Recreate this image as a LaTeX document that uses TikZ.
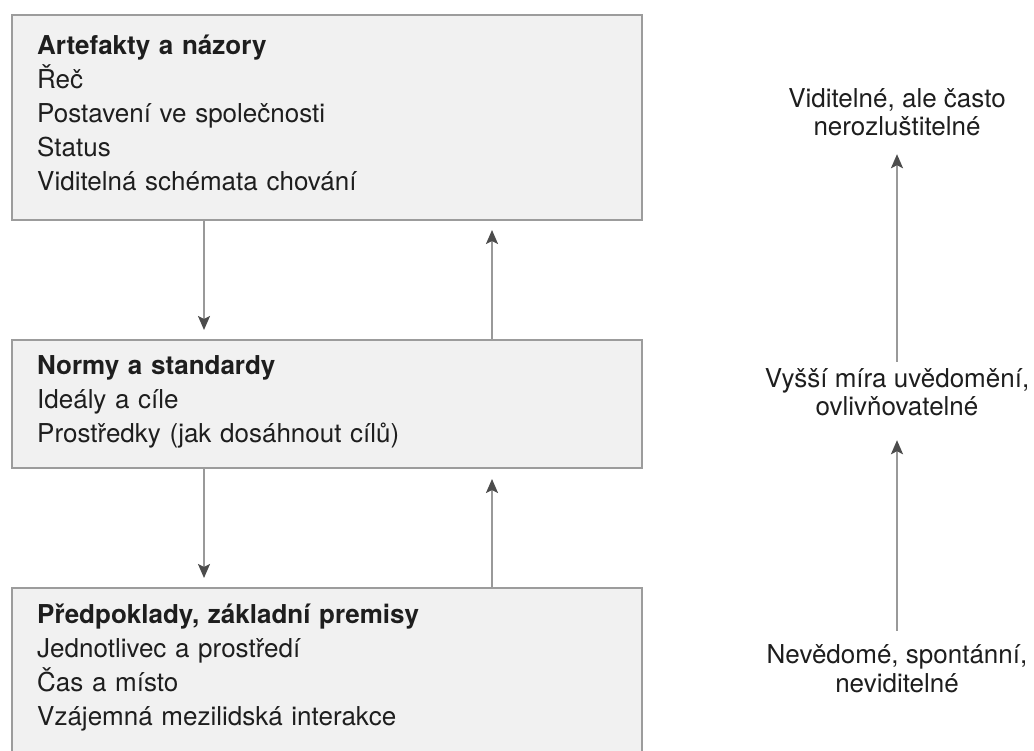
\documentclass[tikz,border=0pt]{standalone}
\usepackage{fontspec}
\setmainfont{TeX Gyre Heros}
\usetikzlibrary{arrows.meta}
\definecolor{boxfill}{HTML}{F1F1F1}
\definecolor{boxline}{HTML}{9C9C9C}
\definecolor{shaft}{HTML}{999999}
\definecolor{tipcol}{HTML}{4C4C4C}
\definecolor{ink}{HTML}{1E1E1E}
\begin{document}
\begin{tikzpicture}[x=1pt,y=-1pt,
  layer/.style={draw=boxline, fill=boxfill, line width=2pt, rectangle,
    inner sep=0pt, minimum width=630pt, anchor=north west},
  boxtext/.style={anchor=base west, inner sep=0pt, text width=500pt,
    align=left, text=ink, font=\fontsize{26}{34}\selectfont},
  side/.style={anchor=base, inner sep=0pt, text height=19pt, text depth=6pt,
    text=ink, font=\fontsize{26}{30}\selectfont},
  flow/.style={draw=shaft, line width=2pt,
    -{Stealth[length=14pt, width=12pt, inset=3pt, color=tipcol]}}
]
\useasboundingbox (0,0) rectangle (1034,751);
\clip (0,0) rectangle (1034,751);
\fill[white] (0,0) rectangle (1034,751);

% the three layers
\node[layer, minimum height=205pt] (art)  at (11,14)  {};
\node[layer, minimum height=128pt] (norm) at (11,339) {};
\node[layer, minimum height=220pt] (pred) at (11,587) {};

\node[boxtext] (arttxt) at (37,55)
  {\textbf{Artefakty a názory}\\Řeč\\Postavení ve společnosti\\Status\\Viditelná schémata chování};
\node[boxtext] (normtxt) at (37,375)
  {\textbf{Normy a standardy}\\Ideály a cíle\\Prostředky (jak dosáhnout cílů)};
\node[boxtext] (predtxt) at (37,623)
  {\textbf{Předpoklady, základní premisy}\\Jednotlivec a prostředí\\Čas a místo\\Vzájemná mezilidská interakce};

% columns of the connectors between layers
\coordinate (xdown) at (204,0);
\coordinate (xup)   at (492,0);

\draw[flow, shorten >=9pt]  (art.south -| xdown)  -- (norm.north -| xdown);
\draw[flow, shorten >=9pt]  (norm.north -| xup)   -- (art.south -| xup);
\draw[flow, shorten >=9pt]  (norm.south -| xdown) -- (pred.north -| xdown);
\draw[flow, shorten >=10pt] (pred.north -| xup)   -- (norm.south -| xup);

% visibility scale
\node[side] (vid1) at (897,108) {Viditelné, ale často};
\node[side] (vid2) at (897,136) {nerozluštitelné};
\node[side] (vys1) at (897,388) {Vyšší míra uvědomění,};
\node[side] (vys2) at (897,416) {ovlivňovatelné};
\node[side] (nev1) at (897,663) {Nevědomé, spontánní,};
\node[side] (nev2) at (897,692) {neviditelné};

\draw[flow, shorten <=7pt,  shorten >=12pt] (vys1.north) -- (vid2.south);
\draw[flow, shorten <=13pt, shorten >=18pt] (nev1.north) -- (vys2.south);
\end{tikzpicture}
\end{document}
